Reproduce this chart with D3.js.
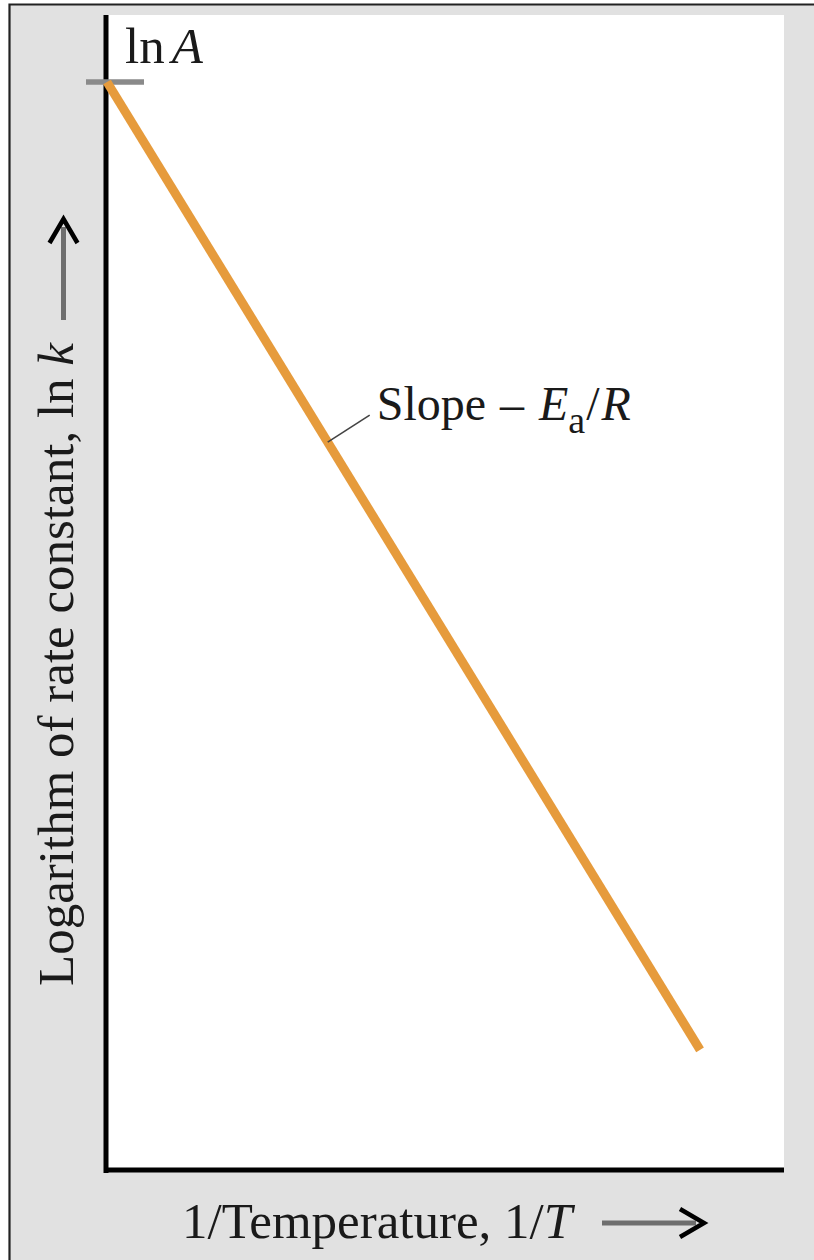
<!DOCTYPE html>
<html>
<head>
<meta charset="utf-8">
<script src="https://cdn.jsdelivr.net/npm/d3@7"></script>
<style>
  html, body { margin: 0; padding: 0; background: #ffffff; }
  svg { display: block; }
  text { font-family: "Liberation Serif", "DejaVu Serif", serif; fill: #1a1a1a; }
</style>
</head>
<body>
<svg id="chart" width="814" height="1260"></svg>
<script>
// Arrhenius plot: ln k against 1/T (arbitrary units)
const invT = [0, 0.876];          // 1/T at the two ends of the line
const lnK = [0.942, 0.104];       // ln k at those points
const lnA = 0.942;                // intercept, ln A
const slopeLabelAt = 0.326;       // 1/T where the slope label points

const W = 814, H = 1260;
const plot = { left: 107, right: 784, top: 15, bottom: 1170 };

const svg = d3.select("#chart");

// Panel background and frame
svg.append("rect").attr("x", 9).attr("y", 5).attr("width", W - 9).attr("height", H - 5)
  .attr("fill", "#e1e1e1");
svg.append("path")
  .attr("d", `M9.5,${H} V4.5 H${W}`)
  .attr("fill", "none").attr("stroke", "#222").attr("stroke-width", 2.2);

// White plotting area
svg.append("rect")
  .attr("x", plot.left).attr("y", plot.top)
  .attr("width", plot.right - plot.left).attr("height", plot.bottom - plot.top)
  .attr("fill", "#ffffff");

const x = d3.scaleLinear().domain([0, 1]).range([plot.left, plot.right]);
const y = d3.scaleLinear().domain([0, 1]).range([plot.bottom, plot.top]);

// Axes: bare domain lines, no ticks
const axisW = 5;
svg.append("g")
  .attr("transform", `translate(${plot.left - 1},0)`)
  .call(d3.axisLeft(y).tickValues([]).tickSizeOuter(0))
  .call(g => g.select(".domain").attr("stroke", "#000").attr("stroke-width", axisW)
    .attr("d", `M0,${plot.top} V${plot.bottom + 3}`));
svg.append("g")
  .attr("transform", `translate(0,${plot.bottom})`)
  .call(d3.axisBottom(x).tickValues([]).tickSizeOuter(0))
  .call(g => g.select(".domain").attr("stroke", "#000").attr("stroke-width", axisW)
    .attr("d", `M${plot.left - 3},0 H${plot.right}`));

// ln A intercept marker
svg.append("line")
  .attr("x1", x(0) - 21).attr("x2", x(0) + 37)
  .attr("y1", y(lnA)).attr("y2", y(lnA))
  .attr("stroke", "#8a8a8a").attr("stroke-width", 5.3);

svg.append("text")
  .attr("x", x(0) + 18).attr("y", y(lnA) - 19)
  .attr("font-size", 51)
  .call(t => {
    t.append("tspan").text("ln");
    t.append("tspan").attr("dx", 7).attr("font-style", "italic").text("A");
  });

// The Arrhenius line
const pts = invT.map((v, i) => [v, lnK[i]]);
svg.append("path")
  .datum(pts)
  .attr("d", d3.line().x(d => x(d[0])).y(d => y(d[1])))
  .attr("fill", "none")
  .attr("stroke", "#e69b3c")
  .attr("stroke-width", 9)
  .attr("stroke-linecap", "butt");

// Slope annotation with leader line
const slopeY = d3.scaleLinear().domain(invT).range(lnK);
const ax = x(slopeLabelAt), ay = y(slopeY(slopeLabelAt));
svg.append("line")
  .attr("x1", ax).attr("y1", ay)
  .attr("x2", ax + 42).attr("y2", ay - 27)
  .attr("stroke", "#444").attr("stroke-width", 1.6);

svg.append("text")
  .attr("x", ax + 49).attr("y", 420)
  .attr("font-size", 48)
  .call(t => {
    t.append("tspan").text("Slope");
    t.append("tspan").attr("dx", 14).text("\u2013");
    t.append("tspan").attr("dx", 15).attr("font-style", "italic").text("E");
    t.append("tspan").attr("font-size", 38).attr("dy", 13).text("a");
    t.append("tspan").attr("dy", -13).attr("dx", 1).text("/");
    t.append("tspan").attr("font-style", "italic").attr("dx", 2).text("R");
  });

// Axis titles
svg.append("text")
  .attr("x", 182).attr("y", 1238)
  .attr("font-size", 51)
  .call(t => {
    t.append("tspan").text("1/Temperature, 1/");
    t.append("tspan").attr("font-style", "italic").text("T");
  });

svg.append("text")
  .attr("transform", "translate(73,343) rotate(-90)")
  .attr("text-anchor", "end")
  .attr("font-size", 51)
  .call(t => {
    t.append("tspan").text("Logarithm of rate constant, ln ");
    t.append("tspan").attr("font-style", "italic").text("k");
  });

// Direction arrows
function arrow(x1, y1, x2, y2) {
  const len = Math.hypot(x2 - x1, y2 - y1);
  const ux = (x2 - x1) / len, uy = (y2 - y1) / len;
  const px = -uy, py = ux;
  const back = 24, half = 14;
  svg.append("line")
    .attr("x1", x1).attr("y1", y1)
    .attr("x2", x2 - ux * 8).attr("y2", y2 - uy * 8)
    .attr("stroke", "#6e6e6e").attr("stroke-width", 5);
  svg.append("path")
    .attr("d", `M${x2 - ux * back + px * half},${y2 - uy * back + py * half}` +
               ` L${x2},${y2} L${x2 - ux * back - px * half},${y2 - uy * back - py * half}`)
    .attr("fill", "none").attr("stroke", "#000").attr("stroke-width", 4.5)
    .attr("stroke-linejoin", "miter");
}
arrow(602, 1223, 704, 1223);
arrow(63.5, 320, 63.5, 219);
</script>
</body>
</html>
